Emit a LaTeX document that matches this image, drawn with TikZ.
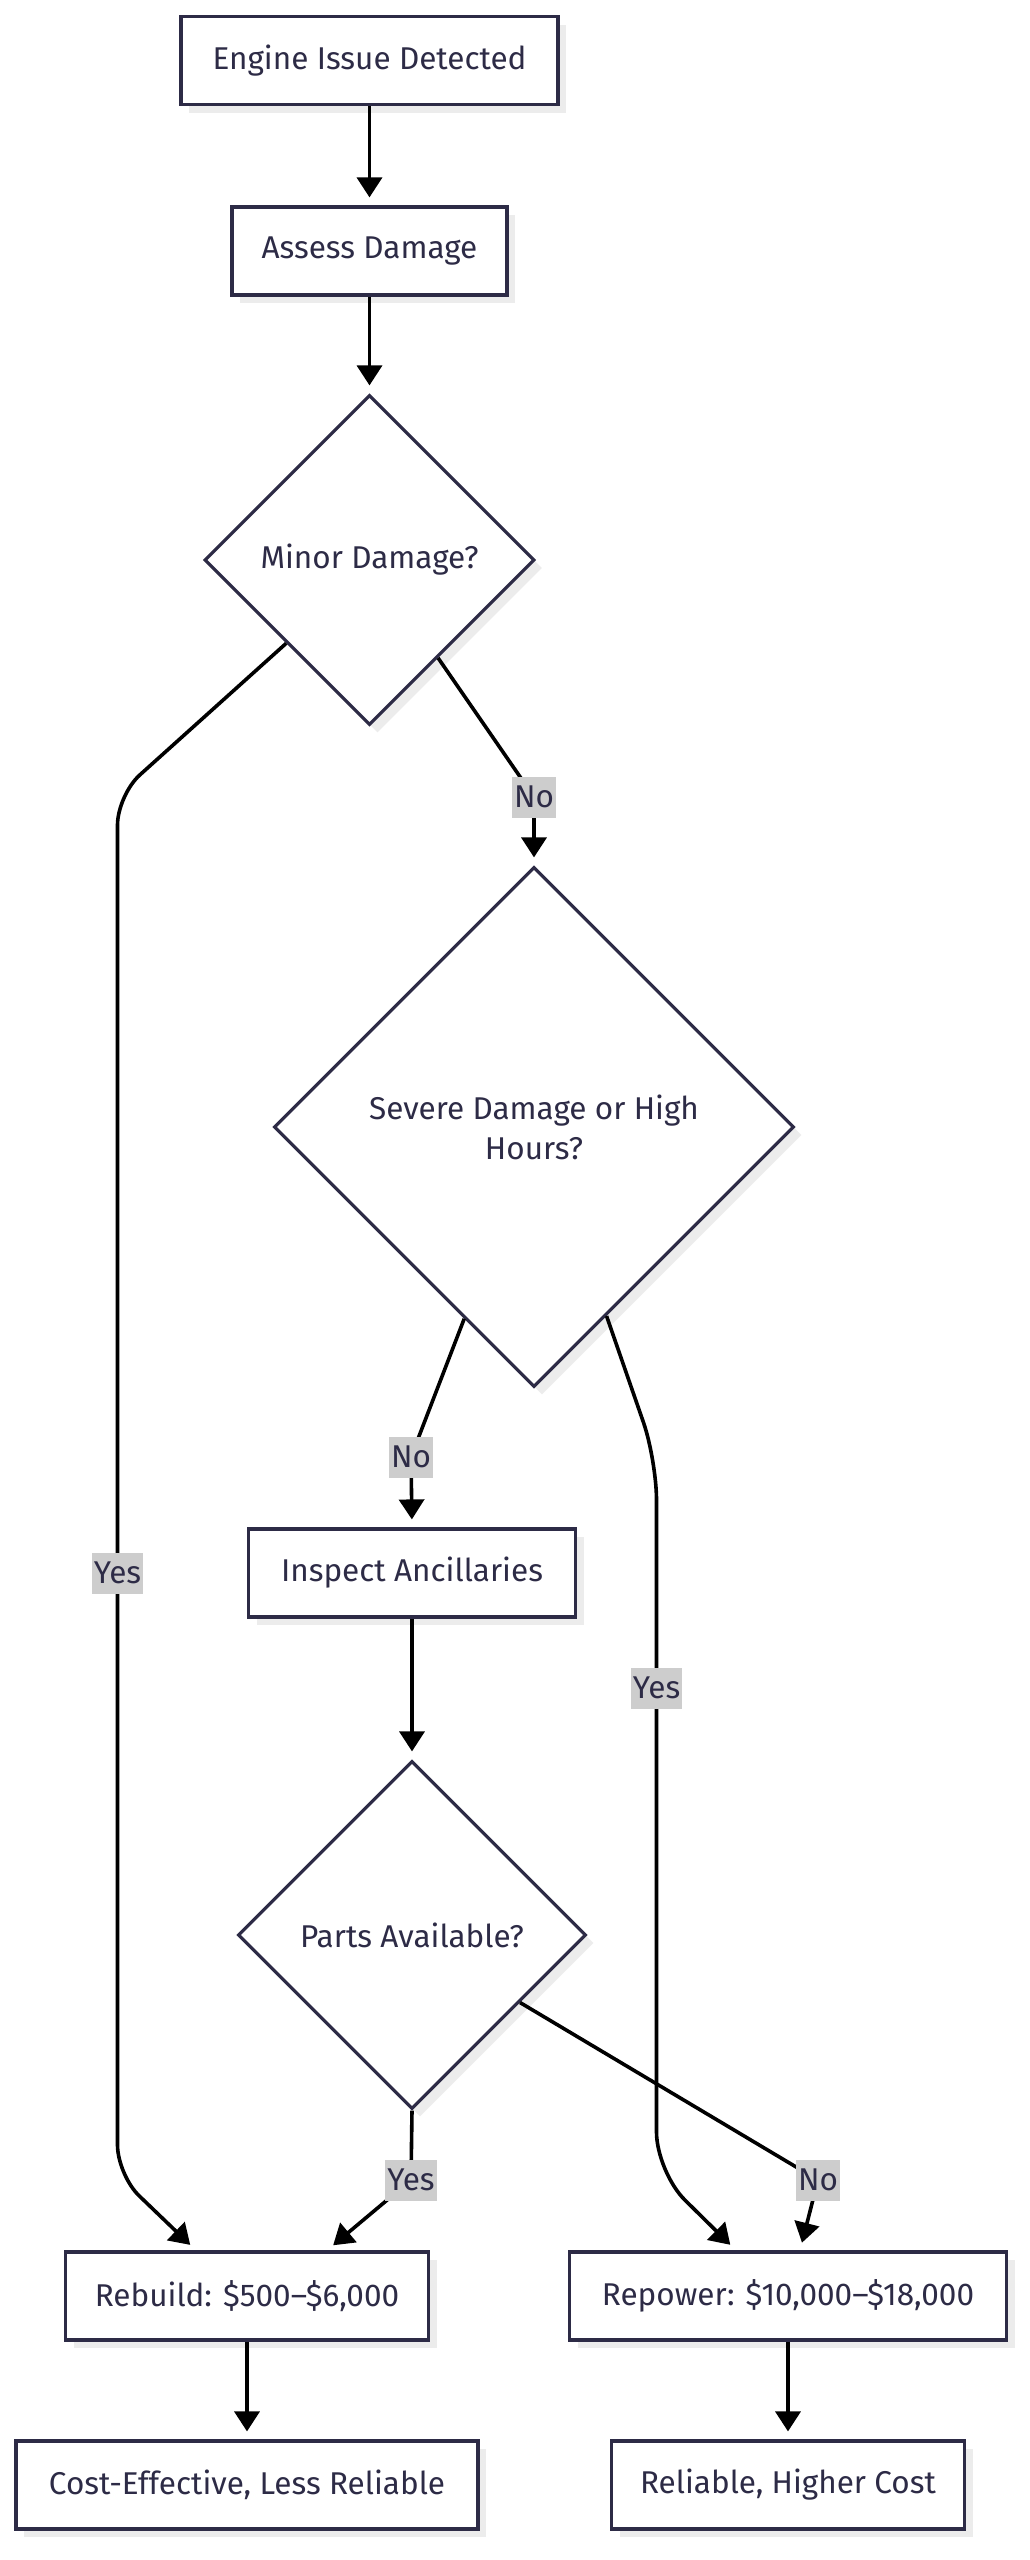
\documentclass[tikz,border=0pt]{standalone}
\usepackage{fontspec}
\setmainfont{Fira Sans}
\usetikzlibrary{positioning,shapes.geometric,arrows.meta,shadows}

\definecolor{nodeline}{RGB}{45,43,70}
\definecolor{nodetext}{RGB}{45,43,70}
\definecolor{lblfill}{RGB}{205,205,205}
\definecolor{shadowgray}{RGB}{236,236,236}

\tikzset{
  base/.style={draw=nodeline, line width=3.2pt, fill=white, text=nodetext,
    font=\fontsize{31.5}{40}\selectfont,
    drop shadow={shadow xshift=8pt, shadow yshift=-8pt, fill=shadowgray, opacity=1}},
  procbox/.style={base, rectangle, minimum height=88pt, inner sep=0pt},
  decision/.style={base, diamond, inner sep=0pt, align=center,
    minimum width=#1, minimum height=#1},
  edge/.style={line width=3.6pt, -{Triangle[length=20pt,width=25pt]}, shorten >=8pt},
  lbl/.style={sharp corners, fill=lblfill, text=nodetext, font=\fontsize{31.5}{30}\selectfont,
    inner xsep=2pt, inner ysep=0pt, minimum height=41pt}
}

\begin{document}
\begin{tikzpicture}[x=1pt, y=-1pt, node distance=190pt, on grid]
  \useasboundingbox (0,0) rectangle (1029,2560);

  % nodes
  \node[procbox, minimum width=377pt] (eid) at (369.5,60.5) {Engine Issue Detected};
  \node[procbox, minimum width=275pt] (ad) [below=190.5pt of eid] {Assess Damage};
  \node[decision=330pt] (md) [below=309pt of ad] {Minor Damage?};
  \node[decision=520pt] (sd) [below right=567pt and 164.5pt of md] {Severe Damage or High\\Hours?};
  \node[procbox, minimum width=327pt] (ia) [below left=446pt and 122pt of sd] {Inspect Ancillaries};
  \node[decision=348pt] (pa) [below=362pt of ia] {Parts Available?};
  \node[procbox, minimum width=363pt] (rb) [below left=361pt and 165pt of pa] {Rebuild: \$500–\$6,000};
  \node[procbox, minimum width=437pt] (rp) [right=541pt of rb] {Repower: \$10,000–\$18,000};
  \node[procbox, minimum width=462pt] (ce) [below=189pt of rb] {Cost-Effective, Less Reliable};
  \node[procbox, minimum width=353pt] (rh) [below=189pt of rp] {Reliable, Higher Cost};

  % connectors
  \draw[edge] (eid) -- (ad);
  \draw[edge] (ad) -- (md);
  \draw[edge, rounded corners=30pt] (md.-135) -- (117.5,795) -- (117.5,1573) node[lbl] {Yes}
    -- (117.5,2175) -- ([xshift=-51pt]rb.north);
  \draw[edge] (md.-55) -- (534,797) node[lbl] {No} -- (sd.north);
  \draw[edge] (sd.-110) -- (411,1457) node[lbl] {No} -- (ia.north);
  \draw[edge, rounded corners=40pt] (sd.-69) -- (656.5,1460) -- (656.5,1688) node[lbl] {Yes}
    -- (656.5,2172) -- ([xshift=-52pt]rp.north);
  \draw[edge] (ia) -- (pa);
  \draw[edge] (pa.south) -- (411,2180) node[lbl] {Yes} -- ([xshift=80pt]rb.north);
  \draw[edge] (pa.-32) -- (818,2180) node[lbl] {No} -- ([xshift=12pt]rp.north);
  \draw[edge] (rb) -- (ce);
  \draw[edge] (rp) -- (rh);
\end{tikzpicture}
\end{document}
